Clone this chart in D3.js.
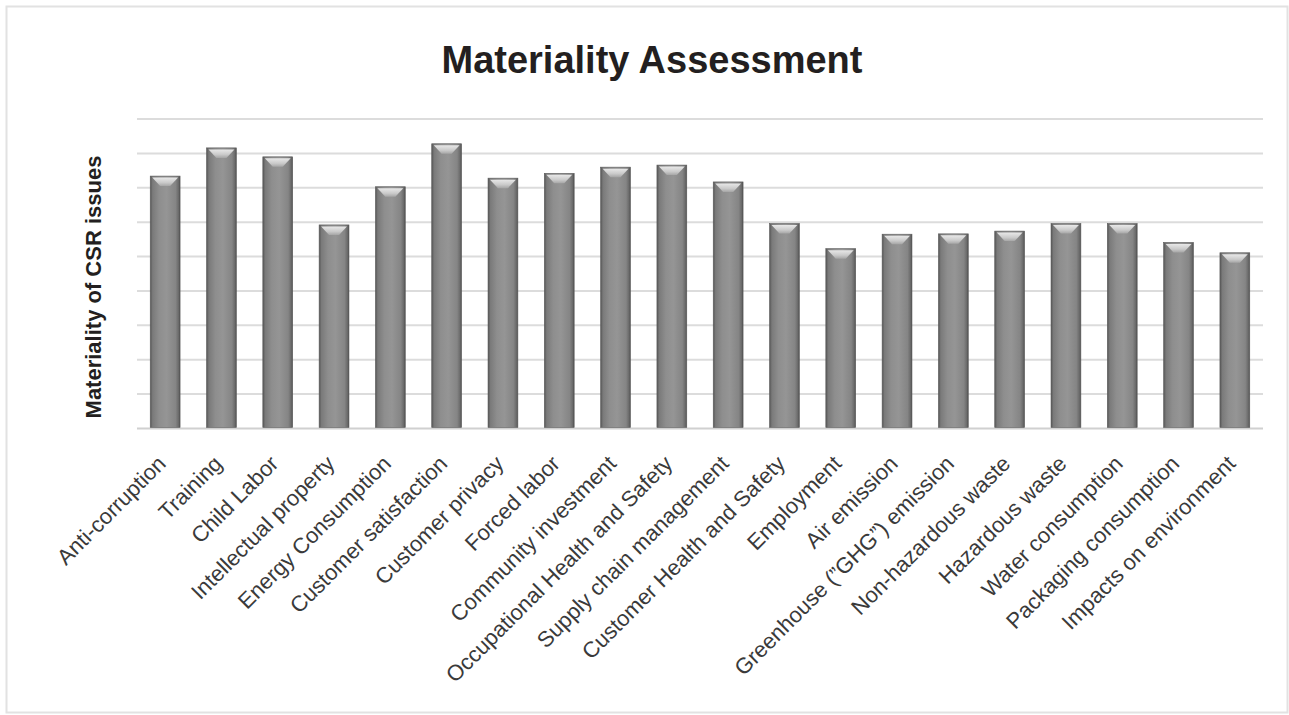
<!DOCTYPE html>
<html><head><meta charset="utf-8">
<script src="https://cdn.jsdelivr.net/npm/d3@7"></script>
<style>body{margin:0;background:#fff}svg{display:block}</style>
</head><body><svg id="c" width="1289" height="715"></svg>
<script>
const categories = ["Anti-corruption","Training","Child Labor","Intellectual property","Energy Consumption","Customer satisfaction","Customer privacy","Forced labor","Community investment","Occupational Health and Safety","Supply chain management","Customer Health and Safety","Employment","Air emission","Greenhouse (\u201dGHG\u201d) emission","Non-hazardous waste","Hazardous waste","Water consumption","Packaging consumption","Impacts on environment"];
const values = [7.34,8.16,7.90,5.92,7.03,8.28,7.28,7.42,7.60,7.66,7.17,5.96,5.23,5.65,5.66,5.74,5.96,5.96,5.41,5.11];
const gridTicks = [0,1,2,3,4,5,6,7,8,9];
const chartTitle = "Materiality Assessment";
const yTitle = "Materiality of CSR issues";

(function(){
const svg = d3.select("#c");
const pL = 137, pR = 1263, pT = 119, pB = 428.5;

// frame
svg.append("rect").attr("x",6.5).attr("y",6.5).attr("width",1281).attr("height",706)
  .attr("fill","#fff").attr("stroke","#e2e2e2").attr("stroke-width",2);

const defs = svg.append("defs");
const g1 = defs.append("linearGradient").attr("id","barg").attr("x1","0").attr("x2","1").attr("y1","0").attr("y2","0");
[[0,"#555"],[0.08,"#7a7a7a"],[0.3,"#8e8e8e"],[0.55,"#959595"],[0.85,"#858585"],[0.95,"#6a6a6a"],[1,"#4e4e4e"]]
  .forEach(([o,c])=>g1.append("stop").attr("offset",o).attr("stop-color",c));
const g2 = defs.append("linearGradient").attr("id","capg").attr("x1","0").attr("x2","0").attr("y1","0").attr("y2","1");
[[0,"#f2f2f2"],[0.6,"#d0d0d0"],[1,"#a8a8a8"]].forEach(([o,c])=>g2.append("stop").attr("offset",o).attr("stop-color",c));

const x = d3.scaleBand().domain(categories).range([pL,pR]).paddingInner(0.47).paddingOuter(0.235);
const y = d3.scaleLinear().domain([0,9]).range([pB,pT]);

// gridlines
svg.append("g").selectAll("line").data(gridTicks).join("line")
  .attr("x1",pL).attr("x2",pR)
  .attr("y1",d=>y(d)).attr("y2",d=>y(d))
  .attr("stroke",d=>d===0?"#d0d0d0":"#dcdcdc").attr("stroke-width",2);

// bars
const bars = svg.append("g").selectAll("g").data(categories).join("g");
bars.append("rect")
  .attr("x",d=>x(d)).attr("width",x.bandwidth())
  .attr("y",(d,i)=>y(values[i])).attr("height",(d,i)=>pB-1-y(values[i]))
  .attr("fill","url(#barg)").attr("stroke","#5a5a5a").attr("stroke-width",0.6);
bars.append("path")
  .attr("d",(d,i)=>{
    const x0=x(d), w=x.bandwidth(), t=y(values[i]);
    return `M${x0+2},${t+1.5} L${x0+w-2},${t+1.5} L${x0+w/2+5},${t+10} L${x0+w/2-5},${t+10} Z`;
  })
  .attr("fill","url(#capg)").attr("opacity",0.9);

// x labels
svg.append("g").selectAll("text").data(categories).join("text")
  .attr("transform",d=>`translate(${x(d)+x.bandwidth()/2+2},${465}) rotate(-45)`)
  .attr("text-anchor","end")
  .attr("font-family","Liberation Sans, Arial, Helvetica, sans-serif")
  .attr("font-size",22).attr("fill","#3a3a3a")
  .text(d=>d);

// title
svg.append("text").attr("x",652).attr("y",73)
  .attr("text-anchor","middle").attr("font-family","Liberation Sans, Arial, Helvetica, sans-serif")
  .attr("font-weight","bold").attr("font-size",38).attr("fill","#231f20").text(chartTitle);

// y title
svg.append("text").attr("transform","translate(101,287) rotate(-90)")
  .attr("text-anchor","middle").attr("font-family","Liberation Sans, Arial, Helvetica, sans-serif")
  .attr("font-weight","bold").attr("font-size",22).attr("fill","#231f20").text(yTitle);
})();
</script>
</body></html>
